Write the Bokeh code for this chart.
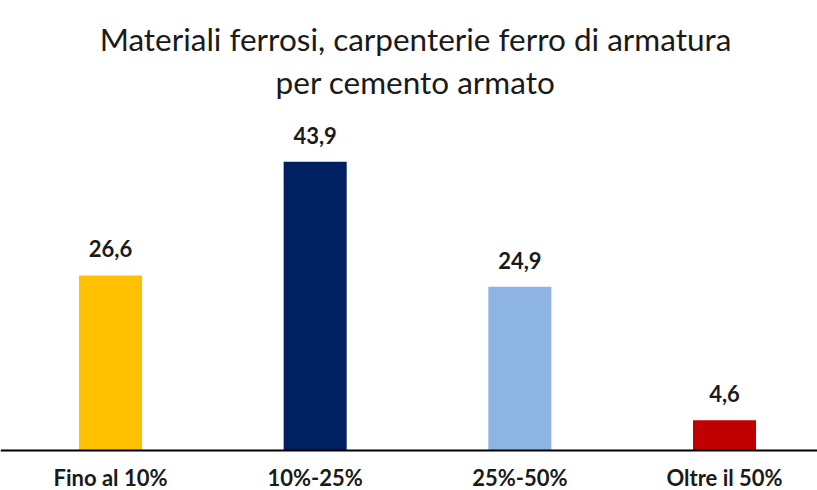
from bokeh.plotting import figure
from bokeh.models import ColumnDataSource, Range1d, LabelSet, Label, Span
from bokeh.core.properties import value
from bokeh.embed import file_html
from bokeh.resources import INLINE

categories = ["Fino al 10%", "10%-25%", "25%-50%", "Oltre il 50%"]
values = [26.6, 43.9, 24.9, 4.6]
colors = ["#FFC000", "#002060", "#8EB4E3", "#C00000"]
title_lines = ["Materiali ferrosi, carpenterie ferro di armatura", "per cemento armato"]

xs = list(range(len(categories)))
labels = [f"{v:.1f}".replace(".", ",") for v in values]
src = ColumnDataSource(dict(x=xs, top=values, color=colors, label=labels,
                            cat=categories, base=[0] * len(xs)))

W, H = 817, 490
SCALE = 6.58          # pixels per unit
ZERO_PX = 450         # distance of the baseline from the top of the figure
YMAX = ZERO_PX / SCALE
YMIN = -(H - ZERO_PX) / SCALE
STEP = 204.67         # pixels per category
X0 = -110 / STEP

p = figure(width=W, height=H, output_backend="svg", toolbar_location=None,
           x_range=Range1d(X0, X0 + W / STEP), y_range=Range1d(YMIN, YMAX),
           min_border_left=0, min_border_right=0, min_border_top=0, min_border_bottom=0)
p.xaxis.visible = False
p.yaxis.visible = False
p.xgrid.visible = False
p.ygrid.visible = False
p.outline_line_color = None

for txt, off in zip(title_lines, [-38, -81]):
    p.add_layout(Label(x=415, y=YMAX, x_units="screen", y_units="data", y_offset=off, text=txt,
                       text_align="center", text_baseline="alphabetic", text_font="Lato",
                       text_font_size="31.5px", text_color="#1a1a1a"))

p.vbar(x="x", top="top", width=0.308, bottom=0, color="color", source=src, line_color=None)

# category axis line
p.add_layout(Span(location=0, dimension="width", line_color="black", line_width=2))

ls = LabelSet(x="x", y="top", text="label", source=src, text_align="center",
              text_baseline="alphabetic", y_offset=18, text_font=value("Lato"),
              text_font_size=value("22px"), text_font_style=value("bold"), text_color=value("#1a1a1a"))
p.add_layout(ls)

cl = LabelSet(x="x", y="base", text="cat", source=src, text_align="center",
              text_baseline="alphabetic", y_offset=-35, text_font=value("Lato"),
              text_font_size=value("22px"), text_font_style=value("bold"), text_color=value("#1a1a1a"))
p.add_layout(cl)

open("out.html", "w").write(file_html(p, INLINE))
